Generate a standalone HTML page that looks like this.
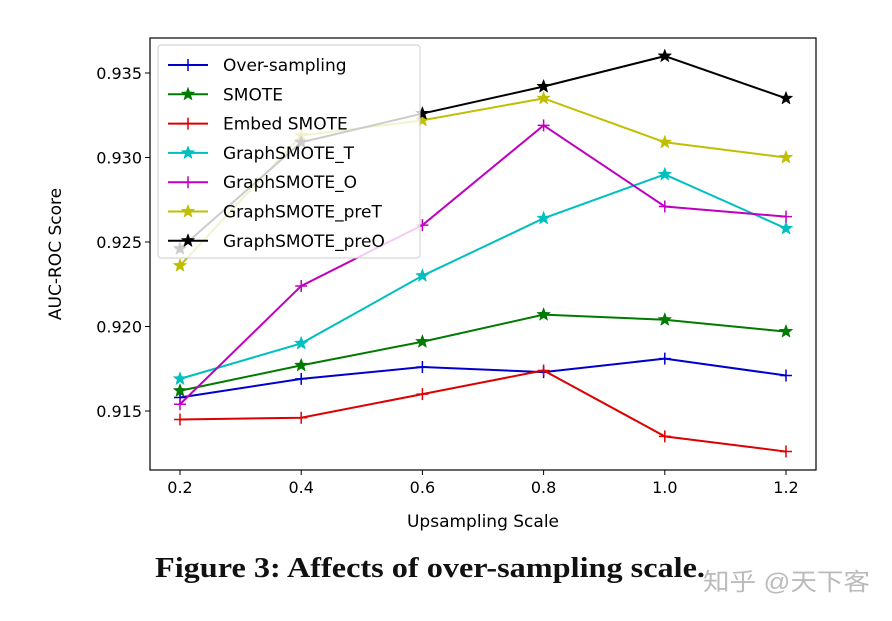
<!DOCTYPE html>
<html><head><meta charset="utf-8"><style>
body{margin:0;background:#fff;width:892px;height:617px;overflow:hidden;font-family:"DejaVu Sans","Liberation Sans",sans-serif}
</style></head><body>
<svg id="c" width="892" height="617" xmlns="http://www.w3.org/2000/svg">
<text x="155" y="577" font-family="'Liberation Serif',serif" font-weight="bold" font-size="28" fill="#111" textLength="550" lengthAdjust="spacingAndGlyphs">Figure 3: Affects of over-sampling scale.</text>
<text x="703" y="590" font-family="'Liberation Sans','Noto Sans CJK SC',sans-serif" font-size="24" fill="#bbb" textLength="167" lengthAdjust="spacingAndGlyphs">知乎 @天下客</text>
</svg>
<script>
const categories=[0.2,0.4,0.6,0.8,1.0,1.2];
const xTicks=["0.2","0.4","0.6","0.8","1.0","1.2"];
const yTicks=[0.915,0.920,0.925,0.930,0.935];
const seriesNames=["Over-sampling","SMOTE","Embed SMOTE","GraphSMOTE_T","GraphSMOTE_O","GraphSMOTE_preT","GraphSMOTE_preO"];
const overSampling=[0.9158,0.9169,0.9176,0.9173,0.9181,0.9171];
const smote=[0.9162,0.9177,0.9191,0.9207,0.9204,0.9197];
const embedSmote=[0.9145,0.9146,0.9160,0.9174,0.9135,0.9126];
const graphSmoteT=[0.9169,0.9190,0.9230,0.9264,0.9290,0.9258];
const graphSmoteO=[0.9154,0.9224,0.9260,0.9319,0.9271,0.9265];
const graphSmotePreT=[0.9236,0.9313,0.9322,0.9335,0.9309,0.9300];
const graphSmotePreO=[0.9246,0.9309,0.9326,0.9342,0.9360,0.9335];
const series=[overSampling,smote,embedSmote,graphSmoteT,graphSmoteO,graphSmotePreT,graphSmotePreO];
const colors=["#0000cc","#007a00","#dd0000","#00bfbf","#bf00bf","#bfbf00","#000000"];
const markers=["+","*","+","*","+","*","*"];
const L=150,R=816,T=38,B=470;
const xs=v=>180+(v-0.2)/0.2*121.2;
const ys=v=>411-(v-0.915)/0.001*16.9;
const svg=document.getElementById('c');
const NS="http://www.w3.org/2000/svg";
function mk(t,a,p){const e=document.createElementNS(NS,t);for(const k in a)e.setAttribute(k,a[k]);(p||svg).appendChild(e);return e;}
function star(x,y,r,col,p){let pts=[];for(let i=0;i<10;i++){const rr=i%2?r*0.42:r;const a=-Math.PI/2+i*Math.PI/5;pts.push((x+rr*Math.cos(a)).toFixed(1)+","+(y+rr*Math.sin(a)).toFixed(1));}return mk('polygon',{points:pts.join(' '),fill:col,stroke:col,'stroke-width':0.5},p);}
function plus(x,y,r,col,p){return mk('path',{d:`M${x-r},${y}H${x+r}M${x},${y-r}V${y+r}`,stroke:col,'stroke-width':1.5,fill:'none'},p);}
const frame=mk('rect',{x:L,y:T,width:R-L,height:B-T,fill:'none',stroke:'#000','stroke-width':1.2});


categories.forEach((c,i)=>{const x=xs(c);
 const t=mk('line',{x1:x,x2:x,y1:B,y2:B+5,stroke:'#000'});
 
 
 const l=mk('text',{x:x,y:B+23,'text-anchor':'middle','font-size':16});l.textContent=xTicks[i];
 
 });
yTicks.forEach(v=>{const y=ys(v);
 const t=mk('line',{x1:L-5,x2:L,y1:y,y2:y,stroke:'#000'});
 
 
 const l=mk('text',{x:L-8,y:y+6,'text-anchor':'end','font-size':16});l.textContent=v.toFixed(3);
 
 });
const xt=mk('text',{x:(L+R)/2,y:527,'text-anchor':'middle','font-size':17});xt.textContent="Upsampling Scale";


const yt=mk('text',{x:0,y:0,'text-anchor':'middle','font-size':17,transform:`translate(67,${(T+B)/2}) rotate(-90)`});yt.textContent="AUC-ROC Score";


series.forEach((s,k)=>{const g=mk('g',{});
 
 
 mk('polyline',{points:s.map((v,i)=>xs(categories[i])+","+ys(v)).join(' '),fill:'none',stroke:colors[k],'stroke-width':2},g);
 s.forEach((v,i)=>{const m=markers[k]=="*"?star(xs(categories[i]),ys(v),7,colors[k],g):plus(xs(categories[i]),ys(v),6,colors[k],g);
  
  });});
const lg=mk('g',{});


mk('rect',{x:158,y:45,width:262,height:213,rx:3,fill:'#fff','fill-opacity':0.8,stroke:'#ccc'},lg);
seriesNames.forEach((n,k)=>{const y=65+k*29.3;const e=mk('g',{},lg);
 
 
 mk('line',{x1:168,x2:208,y1:y,y2:y,stroke:colors[k],'stroke-width':2},e);
 if(markers[k]=="*")star(188,y,7,colors[k],e);else plus(188,y,6,colors[k],e);
 const t=mk('text',{x:223,y:y+6,'font-size':17},e);t.textContent=n;});
yt.setAttribute('transform',`translate(61,${(T+B)/2}) rotate(-90)`);
</script>
</body></html>
